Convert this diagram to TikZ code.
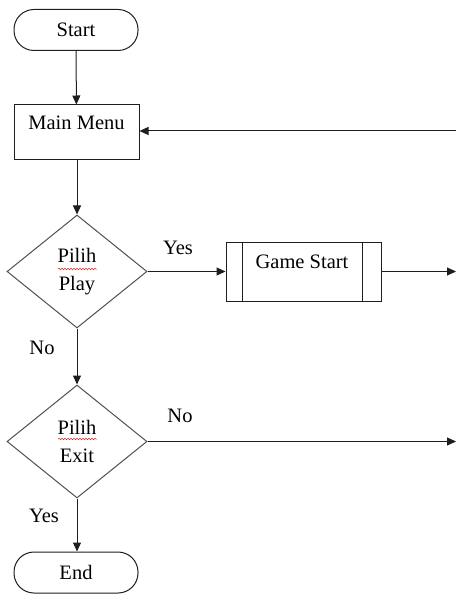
\documentclass[tikz,border=0pt]{standalone}
\usepackage{fontspec}
\setmainfont{Liberation Serif}
\usepackage{tikz}
\usetikzlibrary{arrows.meta, positioning, shapes.geometric, decorations.pathmorphing}
\definecolor{lineblack}{RGB}{30, 30, 30}
\definecolor{diamgray}{RGB}{80, 80, 80}
\definecolor{spellred}{RGB}{220, 40, 40}

\begin{document}
\begin{tikzpicture}[
    x=1pt, y=-1pt,
    >={Triangle[length=9pt, width=8pt]},
    line width=1pt,
    font=\fontsize{20.5}{28.5}\selectfont,
    terminal/.style={draw=lineblack, rectangle, rounded corners=20pt, minimum width=124pt, minimum height=41pt, inner sep=0pt},
    processbox/.style={draw=lineblack, rectangle, minimum width=125pt, minimum height=55pt, inner sep=0pt},
    decisionbox/.style={draw=diamgray, diamond, aspect=1.24, minimum width=140pt, minimum height=113pt, inner sep=0pt, align=center},
    subbox/.style={draw=lineblack, rectangle, minimum width=155pt, minimum height=59pt, inner sep=0pt},
    flow/.style={->, lineblack},
    spell/.style={spellred, line width=0.5pt, decorate, decoration={snake, amplitude=0.8pt, segment length=3pt}},
]
    \useasboundingbox (0,0) rectangle (456,596);

    % --- main column ---
    \node[terminal] (start) at (76, 30) {Start};
    \node[processbox] (menu) at (76.5, 132.5) {};
    \node (menutext) at (76.5, 123) {Main Menu};
    \node[decisionbox] (play) at (77, 271.5) {Pilih\\Play};
    \node[decisionbox] (exit) at (77, 441.5) {Pilih\\Exit};
    \node[terminal] (end) at (76, 572.5) {End};

    % --- predefined process ---
    \node[subbox] (game) at (303.5, 271.5) {};
    \draw[lineblack] ([xshift=17pt]game.north west) -- ([xshift=17pt]game.south west);
    \draw[lineblack] ([xshift=-19pt]game.north east) -- ([xshift=-19pt]game.south east);
    \node (gametext) at (302, 262) {Game Start};

    % --- spell check marks ---
    \draw[spell] (58, 269) -- (97, 269);
    \draw[spell] (58, 439) -- (97, 439);

    % --- edge coordinates ---
    \coordinate (backin) at (456, 131);
    \coordinate (gameout) at (456, 271.5);
    \coordinate (exitout) at (456, 441.5);

    % --- connectors ---
    \draw[flow] (start) -- (menu);
    \draw[flow] (backin) -- (menu.east |- backin);
    \draw[flow] (menu.south -| play.north) -- (play);
    \draw[flow] (play) -- (game);
    \draw[flow] (game) -- (gameout);
    \draw[flow] (play) -- (exit);
    \draw[flow] (exit) -- (exitout);
    \draw[flow] (exit) -- (end.north -| exit.south);

    % --- branch labels ---
    \node (yesplay) at (178, 248) {Yes};
    \node (noplay) at (42, 348) {No};
    \node (noexit) at (180, 416) {No};
    \node (yesexit) at (44, 516) {Yes};
\end{tikzpicture}
\end{document}
